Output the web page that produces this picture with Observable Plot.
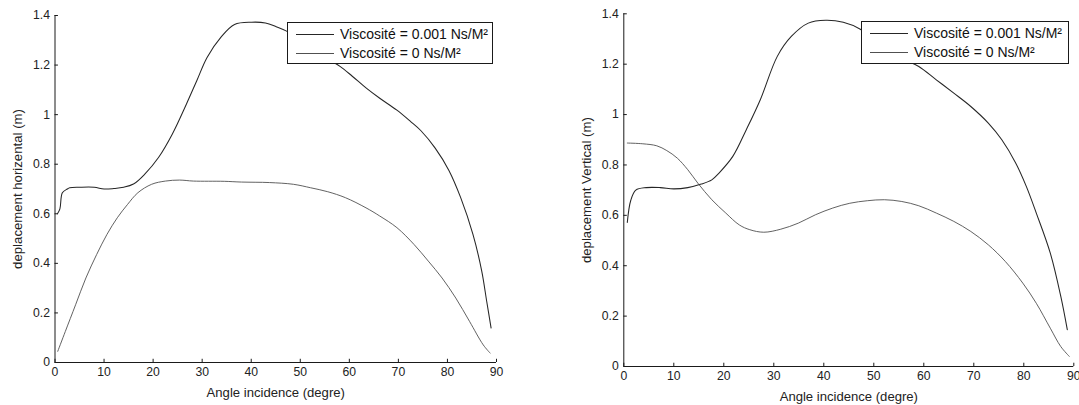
<!DOCTYPE html>
<html>
<head>
<meta charset="utf-8">
<script src="https://cdn.jsdelivr.net/npm/d3@7"></script>
<script src="https://cdn.jsdelivr.net/npm/@observablehq/plot@0.6"></script>
<style>
  html, body { margin: 0; padding: 0; background: #fff; }
  #root { position: relative; width: 1079px; height: 405px; overflow: hidden; font-family: "Liberation Sans", Arial, Helvetica, sans-serif; }
  .panel { position: absolute; top: 0; }
  .legend { position: absolute; background: #fff; border: 1px solid #1a1a1a; box-sizing: border-box; font-size: 14px; color: #111; }
  .legend .row { position: absolute; left: 0; right: 0; height: 18px; display: flex; align-items: center; white-space: nowrap; }
  .legend .swatch { display: inline-block; width: 38px; margin-left: 8px; margin-right: 6px; }
</style>
</head>
<body>
<div id="root"></div>
<script>
// ---- data ----
const xTicks = [0, 10, 20, 30, 40, 50, 60, 70, 80, 90];
const yTicks = [0, 0.2, 0.4, 0.6, 0.8, 1, 1.2, 1.4];
const xLabel = "Angle incidence (degre)";
const yLabelLeft = "deplacement horizental (m)";
const yLabelRight = "deplacement Vertical (m)";
const seriesNames = ["Viscosité = 0.001 Ns/M²", "Viscosité = 0 Ns/M²"];

// left panel: horizontal displacement, viscosity 0.001
const hViscAngle = [0.5, 1, 1.5, 2.5, 3, 5, 8, 10, 12, 14, 16, 18.3, 21.1, 23.9, 26.8, 28.9, 31, 33.8, 36.6, 40.1, 42.9, 45.1, 47.2, 50, 53, 56, 58.1, 60.6, 63.4, 66.2, 69.7, 72.5, 74.6, 77.5, 80.3, 82.7, 85.2, 87, 88, 88.9];
const hViscVal   = [0.60, 0.62, 0.685, 0.70, 0.705, 0.707, 0.707, 0.700, 0.702, 0.707, 0.72, 0.76, 0.827, 0.921, 1.043, 1.137, 1.231, 1.312, 1.364, 1.373, 1.37, 1.355, 1.337, 1.30, 1.26, 1.22, 1.195, 1.155, 1.108, 1.066, 1.018, 0.972, 0.935, 0.865, 0.775, 0.665, 0.517, 0.368, 0.247, 0.139];
// left panel: horizontal displacement, viscosity 0
const hZeroAngle = [0.56, 2.1, 4.2, 6.3, 8.5, 10.6, 12.7, 14.8, 16.9, 19.7, 22.5, 25.4, 28.2, 34.5, 38, 43.7, 48.6, 52.1, 55.6, 59.2, 63.4, 66.2, 69.7, 73.2, 76.1, 78.9, 81.7, 84.5, 87.3, 88.7];
const hZeroVal   = [0.045, 0.125, 0.233, 0.341, 0.436, 0.517, 0.584, 0.638, 0.685, 0.719, 0.732, 0.736, 0.732, 0.731, 0.728, 0.726, 0.719, 0.705, 0.689, 0.665, 0.624, 0.591, 0.544, 0.476, 0.409, 0.341, 0.26, 0.166, 0.071, 0.038];

// right panel: vertical displacement, viscosity 0.001
const vViscAngle = [0.7, 1.4, 2.4, 4.5, 7.3, 10, 12.8, 15.5, 17.6, 19, 21.8, 24.5, 27.3, 30.7, 33.5, 36.9, 40.4, 43.9, 47.3, 50, 53, 56, 59, 62.5, 66, 69.4, 72.9, 75.6, 78.4, 80.5, 82.5, 85.3, 87.4, 88.7];
const vViscVal   = [0.572, 0.66, 0.70, 0.71, 0.71, 0.705, 0.71, 0.724, 0.741, 0.767, 0.834, 0.94, 1.059, 1.231, 1.31, 1.363, 1.374, 1.366, 1.339, 1.30, 1.26, 1.22, 1.191, 1.138, 1.085, 1.032, 0.966, 0.90, 0.807, 0.715, 0.609, 0.45, 0.278, 0.146];
// right panel: vertical displacement, viscosity 0
const vZeroAngle = [0.7, 3.8, 6.6, 8.6, 10.7, 12.8, 14.8, 17.6, 20.4, 23.1, 25.2, 28, 31.4, 34.9, 38.3, 41.8, 45.2, 48.7, 52.1, 55.6, 59, 62.5, 66, 69.4, 72.9, 76.3, 79.8, 82.5, 85.3, 87.4, 89.1];
const vZeroVal   = [0.887, 0.884, 0.876, 0.857, 0.827, 0.781, 0.728, 0.662, 0.609, 0.562, 0.543, 0.533, 0.545, 0.569, 0.602, 0.629, 0.648, 0.658, 0.662, 0.655, 0.638, 0.609, 0.576, 0.536, 0.483, 0.417, 0.331, 0.251, 0.152, 0.079, 0.04];

// ---- styles ----
const FONT = '"Liberation Sans", Arial, Helvetica, sans-serif';
const AXIS = "#1a1a1a";
const lineStyles = [
  {stroke: "#262626", strokeWidth: 1.05},
  {stroke: "#505050", strokeWidth: 0.9}
];

function zip(xs, ys) { return xs.map((x, i) => ({x, y: ys[i]})); }

function makePanel({left, width, margins, yLabel, yLabelOffset, series, legendBox}) {
  const chart = Plot.plot({
    width, height: 405,
    marginLeft: margins.left, marginRight: margins.right,
    marginTop: margins.top, marginBottom: margins.bottom,
    x: {domain: [0, 90]},
    y: {domain: [0, 1.4]},
    style: {fontFamily: FONT, fontSize: "12.2px", color: "#222", background: "transparent", overflow: "visible"},
    marks: [
      Plot.axisX({ticks: xTicks, tickSize: 0, tickPadding: 5, tickFormat: d => String(d),
        label: null, fontSize: 12.2}),
      Plot.axisX({ticks: [], tickSize: 0, label: xLabel, labelAnchor: "center", labelArrow: "none", labelOffset: 34, fontSize: 13.1}),
      Plot.axisY({ticks: yTicks, tickSize: 0, tickPadding: 5, tickFormat: d => String(d),
        label: null, fontSize: 12.2}),
      Plot.axisY({ticks: [], tickSize: 0, label: yLabel, labelAnchor: "center", labelArrow: "none", labelOffset: yLabelOffset, fontSize: 13.2}),
      Plot.ruleX(xTicks, {x: d => d, y1: 0, y2: 0.013, stroke: AXIS, strokeWidth: 1}),
      Plot.ruleY(yTicks, {y: d => d, x1: 0, x2: 0.7, stroke: AXIS, strokeWidth: 1}),
      ...series.map((s, i) => Plot.line(zip(s.x, s.y), {x: "x", y: "y", curve: "catmull-rom", ...lineStyles[i]})),
      Plot.ruleY([0], {stroke: AXIS, strokeWidth: 1}),
      Plot.ruleX([0], {stroke: AXIS, strokeWidth: 1})
    ]
  });
  const wrap = document.createElement("div");
  wrap.className = "panel";
  wrap.style.left = left + "px";
  wrap.style.width = width + "px";
  wrap.style.height = "405px";
  wrap.appendChild(chart);

  const lg = document.createElement("div");
  lg.className = "legend";
  lg.style.left = legendBox.left + "px";
  lg.style.top = legendBox.top + "px";
  lg.style.width = legendBox.width + "px";
  lg.style.height = legendBox.height + "px";
  seriesNames.forEach((name, i) => {
    const row = document.createElement("div");
    row.className = "row";
    row.style.top = (i === 0 ? 2 : 21) + "px";
    const sw = document.createElement("span");
    sw.className = "swatch";
    sw.style.borderTop = lineStyles[i].strokeWidth + "px solid " + lineStyles[i].stroke;
    row.appendChild(sw);
    const t = document.createElement("span");
    t.textContent = name;
    row.appendChild(t);
    lg.appendChild(row);
  });
  wrap.appendChild(lg);
  document.getElementById("root").appendChild(wrap);
}

makePanel({
  left: 0, width: 540,
  margins: {left: 54.5, right: 44, top: 15, bottom: 43},
  yLabel: yLabelLeft, yLabelOffset: 42,
  series: [{x: hViscAngle, y: hViscVal}, {x: hZeroAngle, y: hZeroVal}],
  legendBox: {left: 287, top: 22, width: 206, height: 42}
});
makePanel({
  left: 540, width: 539,
  margins: {left: 83.3, right: 5.7, top: 13.3, bottom: 39},
  yLabel: yLabelRight, yLabelOffset: 42,
  series: [{x: vViscAngle, y: vViscVal}, {x: vZeroAngle, y: vZeroVal}],
  legendBox: {left: 321, top: 21, width: 208, height: 43}
});
</script>
</body>
</html>
